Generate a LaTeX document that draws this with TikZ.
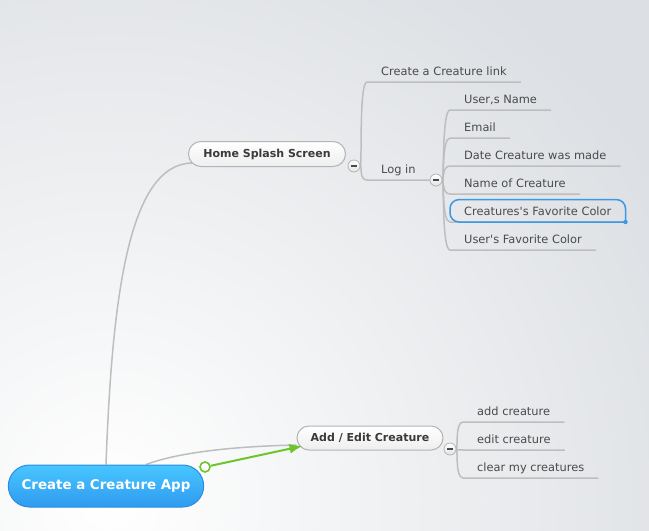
\documentclass[tikz,border=0pt]{standalone}
\usepackage{fontspec}
\setmainfont{DejaVu Sans}
\usetikzlibrary{shapes.misc,arrows.meta}

\definecolor{fond}{HTML}{DCDFE3}
\definecolor{trait}{HTML}{BEBEBE}
\definecolor{texte}{HTML}{4A4A4A}
\definecolor{texte2}{HTML}{3A3A3A}
\definecolor{bord}{HTML}{B4B4B4}
\definecolor{blanc2}{HTML}{EEEEEE}
\definecolor{bleuA}{HTML}{48C6FF}
\definecolor{bleuB}{HTML}{2F9BF0}
\definecolor{bleuC}{HTML}{2C8CE0}
\definecolor{choix}{HTML}{3B98E4}
\definecolor{vert}{HTML}{6BC62E}

\pgfdeclarelayer{fondlayer}
\pgfdeclarelayer{liens}
\pgfsetlayers{fondlayer,liens,main}

\begin{document}
\begin{tikzpicture}[x=1pt,y=-1pt]
\tikzstyle{lien} = [draw=trait, line width=1.5pt];
\tikzstyle{feuille} = [anchor=south west, inner xsep=14pt, inner ysep=4pt, text height=8.5pt, text depth=2.5pt, font=\fontsize{11.4}{13}\selectfont, text=texte];
\tikzstyle{bulle} = [rounded rectangle, draw=bord, line width=1pt, top color=white, bottom color=blanc2, font=\bfseries\fontsize{11}{13}\selectfont, text=texte2, inner sep=0pt];
\tikzstyle{racine} = [rounded rectangle, minimum width=202pt, minimum height=42pt, top color=bleuA, bottom color=bleuB, draw=bleuC, line width=1pt, text=white, font=\bfseries\fontsize{13.4}{15}\selectfont];
\tikzstyle{bouton} = [circle, minimum size=12pt, inner sep=0pt, draw=bord, line width=0.8pt, top color=white, bottom color=blanc2!90!gray,
  path picture={\draw[line width=1.6pt, texte] ([xshift=-2.6pt]path picture bounding box.center) -- ([xshift=2.6pt]path picture bounding box.center);}];
\tikzstyle{anneau} = [circle, minimum size=10pt, inner sep=0pt, draw=vert, line width=1.6pt, fill=white];

\useasboundingbox (0,0) rectangle (649,531);
\begin{pgfonlayer}{fondlayer}
\fill[fond] (0,0) rectangle (649,531);
\begin{scope}
\clip (0,0) rectangle (649,531);
\shade[inner color=white, outer color=fond] (110,500) circle (640);
\end{scope}
\end{pgfonlayer}

% main topics
\node[racine] (app) at (106,486) {Create a Creature App};
\node[bulle, minimum width=157pt, minimum height=25pt] (home) at (267,154) {Home Splash Screen};
\node[bulle, minimum width=146pt, minimum height=24pt] (edit) at (370,438) {Add / Edit Creature};

\node[bouton] (bhome) at (354,166) {};
\node[bouton] (blog) at (436,180) {};
\node[bouton] (bedit) at (450,449) {};

% leaves
\node[feuille] (lnk) at (367,82) {Create a Creature link};
\node[feuille] (login) at (367,180) {Log in};

\begin{pgfonlayer}{liens}
\draw[lien] (app.north) .. controls (112,300) and (128,164) .. ([shift={(4,9)}]home.west);
\draw[lien] ([xshift=40pt]app.north) .. controls (185,450) and (250,446) .. ([yshift=-7pt]edit.west);
\draw[lien] (bhome) .. controls +(8,0) and +(-8,0) .. (lnk.south west) -- (lnk.south east);
\draw[lien] (bhome) .. controls +(8,0) and +(-8,0) .. (login.south west) -- (blog);
\end{pgfonlayer}

\foreach \n/\y/\t in {usr/110/{User,s Name}, mail/138/Email, date/166/Date Creature was made, nom/194/Name of Creature,
  fav/222/Creatures\textquotesingle s Favorite Color, coul/250/User\textquotesingle s Favorite Color}{
	\node[feuille] (\n) at (450,\y) {\t};
	\begin{pgfonlayer}{liens}
	\draw[lien] (blog) .. controls +(8,0) and +(-8,0) .. (\n.south west) -- (\n.south east);
	\end{pgfonlayer}
}
\foreach \n/\y/\t in {ajout/422/add creature, modif/450/edit creature, vider/478/clear my creatures}{
	\node[feuille] (\n) at (463,\y) {\t};
	\begin{pgfonlayer}{liens}
	\draw[lien] (bedit) .. controls +(8,0) and +(-8,0) .. (\n.south west) -- (\n.south east);
	\end{pgfonlayer}
}

% selected leaf
\draw[choix, line width=1.5pt, rounded corners=9pt] (fav.south east) -- ([yshift=3pt]fav.north east) -- ([yshift=3pt]fav.north west) -- (fav.south west) -- (fav.south east);
\fill[choix] (fav.south east) circle (2.2);

% green link
\node[anneau] (gdep) at (205,467) {};
\draw[vert, line width=2pt, -{Latex[length=13pt,width=10pt]}] (gdep) -- ([shift={(6,8)}]edit.west);

\end{tikzpicture}
\end{document}
